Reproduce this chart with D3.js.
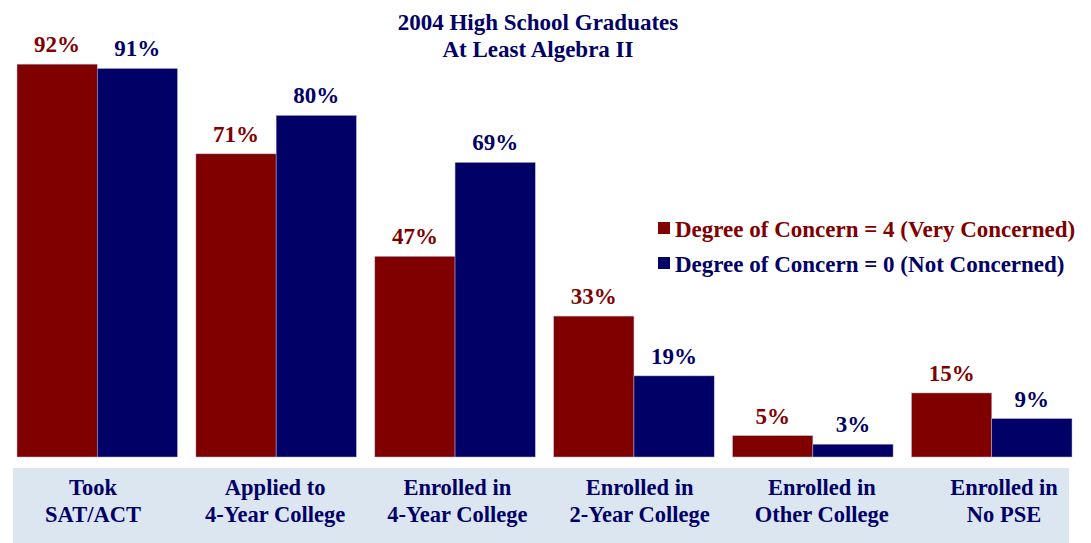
<!DOCTYPE html>
<html>
<head>
<meta charset="utf-8">
<script src="https://cdn.jsdelivr.net/npm/d3@7"></script>
<style>
  html, body { margin: 0; padding: 0; background: #ffffff; }
  svg { display: block; }
  text { font-family: "Liberation Serif", "Times New Roman", serif; font-weight: bold; }
</style>
</head>
<body>
<svg id="chart" width="1091" height="543"></svg>
<script>
// ---- data ----
const categories = ["Took SAT/ACT", "Applied to 4-Year College", "Enrolled in 4-Year College",
                    "Enrolled in 2-Year College", "Enrolled in Other College", "Enrolled in No PSE"];
const categoryLines = [["Took", "SAT/ACT"], ["Applied to", "4-Year College"], ["Enrolled in", "4-Year College"],
                       ["Enrolled in", "2-Year College"], ["Enrolled in", "Other College"], ["Enrolled in", "No PSE"]];
const seriesNames = ["Degree of Concern = 4 (Very Concerned)", "Degree of Concern = 0 (Not Concerned)"];
const veryConcerned = [92, 71, 47, 33, 5, 15];
const notConcerned = [91, 80, 69, 19, 3, 9];
const titleLines = ["2004 High School Graduates", "At Least Algebra II"];

const colors = ["#800000", "#000066"];
const seriesValues = [veryConcerned, notConcerned];

const svg = d3.select("#chart");

const x0 = d3.scaleBand().domain(categories).range([17, 1072]).paddingInner(0.103).paddingOuter(0);
const x1 = d3.scaleBand().domain(seriesNames).range([0, x0.bandwidth()]).padding(0);
const y = d3.scaleLinear().domain([0, 100]).range([457, 30]);
const labelX = d3.scalePoint().domain(categories).range([93, 1004]);

// category band background
svg.append("rect")
  .attr("x", 13).attr("y", 468).attr("width", 1056).attr("height", 75)
  .attr("fill", "#dce6f1");

// bars
const groups = svg.selectAll("g.grp").data(categories).enter().append("g")
  .attr("class", "grp")
  .attr("transform", d => `translate(${x0(d)},0)`);

seriesNames.forEach((s, si) => {
  groups.append("rect")
    .attr("x", x1(s))
    .attr("y", (d, i) => y(seriesValues[si][i]))
    .attr("width", x1.bandwidth())
    .attr("height", (d, i) => y(0) - y(seriesValues[si][i]))
    .attr("fill", colors[si])
    .attr("stroke", "#b8b8d8").attr("stroke-width", 0.5);
  groups.append("text")
    .attr("x", x1(s) + x1.bandwidth() / 2)
    .attr("y", (d, i) => y(seriesValues[si][i]) - 12)
    .attr("text-anchor", "middle")
    .attr("font-size", 23)
    .attr("fill", colors[si])
    .text((d, i) => seriesValues[si][i] + "%");
});

// category labels
const cl = svg.selectAll("text.cat").data(categories).enter().append("text")
  .attr("class", "cat")
  .attr("text-anchor", "middle")
  .attr("font-size", 22.5)
  .attr("fill", "#000066");
cl.each(function(d, i) {
  const t = d3.select(this);
  categoryLines[i].forEach((line, li) => {
    t.append("tspan").attr("x", labelX(d)).attr("y", 495 + li * 27).text(line);
  });
});

// title
svg.append("text")
  .attr("text-anchor", "middle")
  .attr("font-size", 23)
  .attr("fill", "#000066")
  .selectAll("tspan").data(titleLines).enter().append("tspan")
  .attr("x", 538).attr("y", (d, i) => 30 + i * 27)
  .text(d => d);

// legend
const leg = svg.append("g");
seriesNames.forEach((s, i) => {
  leg.append("rect").attr("x", 658).attr("y", 222 + i * 35).attr("width", 12).attr("height", 12).attr("fill", colors[i]);
  leg.append("text").attr("x", 675).attr("y", 237 + i * 35)
    .attr("font-size", 23).attr("fill", colors[i]).text(s);
});
</script>
</body>
</html>
